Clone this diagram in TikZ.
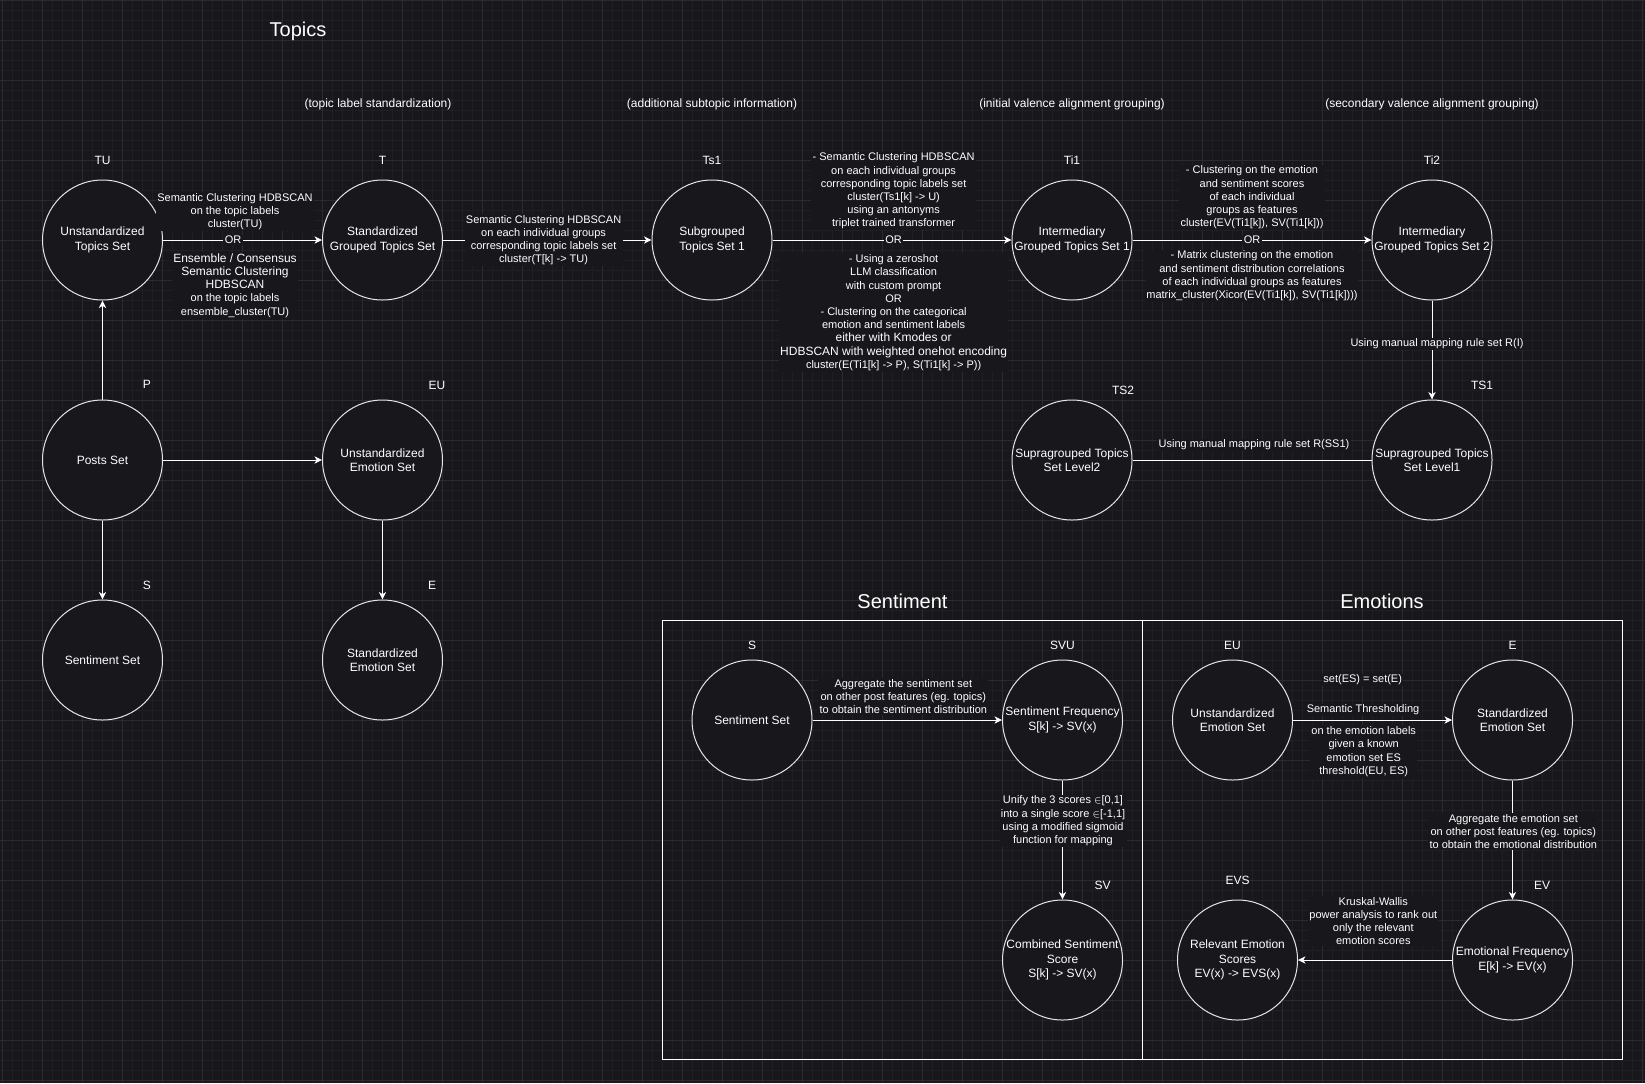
\documentclass[tikz,border=0pt]{standalone}
\usepackage{fontspec}
\setmainfont{Liberation Sans}
\usetikzlibrary{arrows.meta}
\definecolor{bg}{HTML}{18171C}
\definecolor{gridminor}{HTML}{201F24}
\definecolor{gridmajor}{HTML}{2C2B30}
\definecolor{ring}{HTML}{E6E6E6}
\newcommand{\bigln}[1]{{\fontsize{9}{10.8}\selectfont #1}}
\tikzset{
  settxt/.style={text=white, align=center, inner sep=0pt, font=\fontsize{9}{10.8}\selectfont},
  setnode/.style={circle, draw=ring, line width=0.75pt, fill=bg, minimum size=90pt, inner sep=0pt,
    label={[settxt]center:{#1}}},
  tag/.style={text=white, inner sep=0pt, font=\fontsize{9}{10.8}\selectfont},
  lbl/.style={fill=bg, text=white, align=center, inner sep=1pt, font=\fontsize{8.25}{9.9}\selectfont},
  conn/.style={draw=white, line width=0.75pt, -{Stealth[length=5.6pt,width=5.4pt,inset=1.6pt]}},
  plainline/.style={draw=white, line width=0.75pt},
  ttl/.style={text=white, inner sep=0pt, font=\fontsize{15}{18}\selectfont},
}
\begin{document}
\begin{tikzpicture}[x=0.75pt, y=-0.75pt]
        \useasboundingbox (0, 0) rectangle (1645, 1083);
        \fill[bg] (0, 0) rectangle (1645, 1083);
        \foreach \gx in {2.3,12.3,...,1645} \draw[gridminor, line width=0.75pt] (\gx, 0) -- (\gx, 1083);
        \foreach \gy in {0,10,...,1083} \draw[gridminor, line width=0.75pt] (0, \gy) -- (1645, \gy);
        \foreach \gx in {2.3,42.3,...,1645} \draw[gridmajor, line width=0.75pt] (\gx, 0) -- (\gx, 1083);
        \foreach \gy in {0,40,...,1083} \draw[gridmajor, line width=0.75pt] (0, \gy) -- (1645, \gy);

        \draw[white, line width=0.75pt] (662.3, 620.3) rectangle (1622.3, 1059.3);
        \draw[white, line width=0.75pt] (1142.3, 620.3) -- (1142.3, 1059.3);

        \node[ttl] (topics) at (298, 31) {Topics};
        \node[ttl] (sentiment) at (902.5, 601) {Sentiment};
        \node[ttl] (emotions) at (1382, 601) {Emotions};

        \node[tag] (stdnote) at (378, 104) {(topic label standardization)};
        \node[tag] (subnote) at (712, 104) {(additional subtopic information)};
        \node[tag] (ininote) at (1072, 104) {(initial valence alignment grouping)};
        \node[tag] (secnote) at (1432, 104) {(secondary valence alignment grouping)};

        \node[setnode={Unstandardized\\Topics Set}] (tu) at (102.5, 240) {};
        \node[setnode={Standardized\\Grouped Topics Set}] (t) at (382.5, 240) {};
        \node[setnode={Subgrouped\\Topics Set 1}] (tsa) at (712, 240) {};
        \node[setnode={Intermediary\\Grouped Topics Set 1}] (tia) at (1072, 240) {};
        \node[setnode={Intermediary\\Grouped Topics Set 2}] (tib) at (1432, 240) {};
        \node[setnode={Posts Set}] (p) at (102.5, 460) {};
        \node[setnode={Unstandardized\\Emotion Set}] (eu) at (382.5, 460) {};
        \node[setnode={Sentiment Set}] (s) at (102.5, 660) {};
        \node[setnode={Standardized\\Emotion Set}] (e) at (382.5, 660) {};
        \node[setnode={Supragrouped Topics\\Set Level2}] (tsb) at (1072, 460) {};
        \node[setnode={Supragrouped Topics\\Set Level1}] (tsc) at (1432, 460) {};

        \node[setnode={Sentiment Set}] (ss) at (752, 720) {};
        \node[setnode={Sentiment Frequency\\S[k] -> SV(x)}] (svu) at (1062.5, 720) {};
        \node[setnode={Combined Sentiment\\Score\\S[k] -> SV(x)}] (sv) at (1062.5, 960) {};
        \node[setnode={Unstandardized\\Emotion Set}] (eub) at (1232.5, 720) {};
        \node[setnode={Standardized\\Emotion Set}] (eb) at (1512.5, 720) {};
        \node[setnode={Emotional Frequency\\E[k] -> EV(x)}] (ev) at (1512.5, 960) {};
        \node[setnode={Relevant Emotion\\Scores\\EV(x) -> EVS(x)}] (evs) at (1237.5, 960) {};

        \node[tag] (tutag) at (102.5, 160) {TU};
        \node[tag] (ttag) at (382.5, 160) {T};
        \node[tag] (tsatag) at (712, 160) {Ts1};
        \node[tag] (tiatag) at (1072, 160) {Ti1};
        \node[tag] (tibtag) at (1432, 160) {Ti2};
        \node[tag] (ptag) at (147, 384) {P};
        \node[tag] (eutag) at (437, 385) {EU};
        \node[tag] (stag) at (147, 585) {S};
        \node[tag] (etag) at (432, 585) {E};
        \node[tag] (tsbtag) at (1123, 390) {TS2};
        \node[tag] (tsctag) at (1482, 385) {TS1};
        \node[tag] (sstag) at (752, 645) {S};
        \node[tag] (svutag) at (1062.5, 645) {SVU};
        \node[tag] (svtag) at (1102.7, 885) {SV};
        \node[tag] (eubtag) at (1232.5, 645) {EU};
        \node[tag] (ebtag) at (1512.5, 645) {E};
        \node[tag] (evtag) at (1542, 885) {EV};
        \node[tag] (evstag) at (1237.5, 880) {EVS};

        \draw[conn] (p) -- (tu);
        \draw[conn] (p) -- (eu);
        \draw[conn] (p) -- (s);
        \draw[conn] (eu) -- (e);
        \draw[conn] (tu) -- (t);
        \draw[conn] (t) -- (tsa);
        \draw[conn] (tsa) -- (tia);
        \draw[conn] (tia) -- (tib);
        \draw[conn] (tib) -- (tsc);
        \draw[plainline] (tsb) -- (tsc);
        \draw[conn] (ss) -- (svu);
        \draw[conn] (svu) -- (sv);
        \draw[conn] (eub) -- (eb);
        \draw[conn] (eb) -- (ev);
        \draw[conn] (ev) -- (evs);

        \node[lbl] (tuta) at (235, 211.5) {Semantic Clustering HDBSCAN\\on the topic labels\\cluster(TU)};
        \node[lbl] (tuto) at (233, 240) {OR};
        \node[lbl] (tutb) at (235, 285.5) {\bigln{Ensemble / Consensus}\\\bigln{Semantic Clustering}\\\bigln{HDBSCAN}\\on the topic labels\\ensemble\_cluster(TU)};

        \node[lbl] (ttsa) at (543.6, 240) {Semantic Clustering HDBSCAN\\on each individual groups\\corresponding topic labels set\\cluster(T[k] -> TU)};

        \node[lbl] (tsatiaa) at (893.6, 191) {- Semantic Clustering HDBSCAN\\on each individual groups\\corresponding topic labels set\\cluster(Ts1[k] -> U)\\using an antonyms\\triplet trained transformer};
        \node[lbl] (tsatiao) at (893.6, 240) {OR};
        \node[lbl] (tsatiab) at (893.6, 312.7) {- Using a zeroshot\\LLM classification\\with custom prompt\\OR\\- Clustering on the categorical\\emotion and sentiment labels\\\bigln{either with Kmodes or}\\\bigln{HDBSCAN with weighted onehot encoding}\\cluster(E(Ti1[k] -> P), S(Ti1[k] -> P))};

        \node[lbl] (tiatiba) at (1252, 197.5) {- Clustering on the emotion\\and sentiment scores\\of each individual\\groups as features\\cluster(EV(Ti1[k]), SV(Ti1[k]))};
        \node[lbl] (tiatibo) at (1252, 240) {OR};
        \node[lbl] (tiatibb) at (1252, 275.8) {- Matrix clustering on the emotion\\and sentiment distribution correlations\\of each individual groups as features\\matrix\_cluster(Xicor(EV(Ti1[k]), SV(Ti1[k])))};

        \node[lbl] (tibtsc) at (1437, 344) {Using manual mapping rule set R(I)};
        \node[lbl] (tsbtsc) at (1254, 445) {Using manual mapping rule set R(SS1)};

        \node[lbl] (sssvu) at (903.3, 696.5) {Aggregate the sentiment set\\on other post features (eg. topics)\\to obtain the sentiment distribution};
        \node[lbl] (svusv) at (1063, 820.8) {Unify the 3 scores $\in$[0,1]\\into a single score $\in$[-1,1]\\using a modified sigmoid\\function for mapping};

        \node[lbl] (euebset) at (1362.7, 680) {set(ES) = set(E)};
        \node[lbl] (euebsem) at (1363, 710) {Semantic Thresholding};
        \node[lbl] (eubeb) at (1363.7, 751.6) {on the emotion labels\\given a known\\emotion set ES\\threshold(EU, ES)};
        \node[lbl] (ebev) at (1513.3, 831.4) {Aggregate the emotion set\\on other post features (eg. topics)\\to obtain the emotional distribution};
        \node[lbl] (evevs) at (1373.3, 921) {Kruskal-Wallis\\power analysis to rank out\\only the relevant\\emotion scores};
\end{tikzpicture}
\end{document}
